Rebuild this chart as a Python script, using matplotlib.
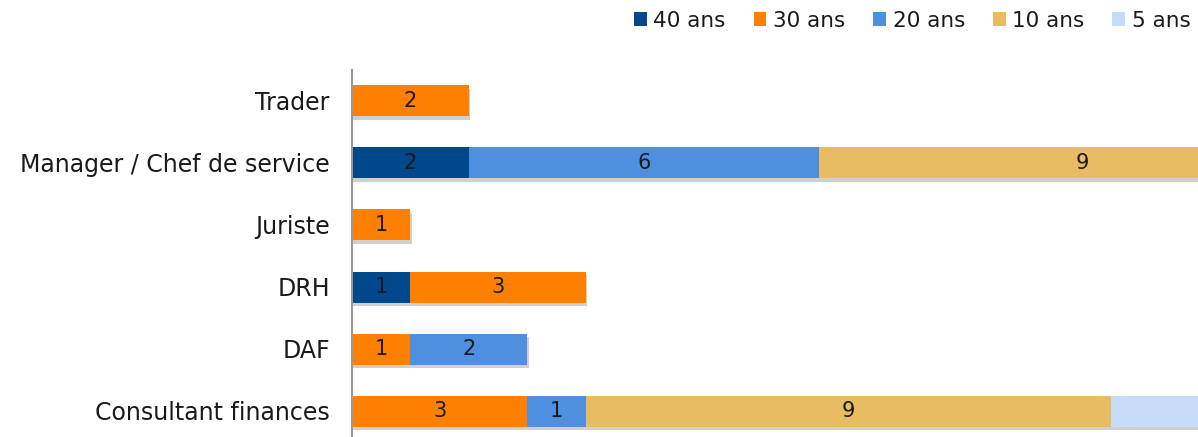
import matplotlib
matplotlib.use("Agg")
import matplotlib.pyplot as plt
import matplotlib.patheffects as pe
from matplotlib.patches import Patch
import numpy as np

plt.rcParams["font.family"] = ["DejaVu Sans"]

categories = ["Trader", "Manager / Chef de service", "Juriste", "DRH", "DAF", "Consultant finances"]
series = ["40 ans", "30 ans", "20 ans", "10 ans", "5 ans"]
ans40 = [0, 2, 0, 1, 0, 0]
ans30 = [2, 0, 1, 3, 1, 3]
ans20 = [0, 6, 0, 0, 2, 1]
ans10 = [0, 9, 0, 0, 0, 9]
ans5 = [0, 0, 0, 0, 0, 4]
colors = ["#00478C", "#FF8000", "#4E8FE0", "#E8BC62", "#C6DBF7"]

fig = plt.figure(figsize=(11.98, 4.37), dpi=100)
ax = fig.add_axes([352 / 1198, -5 / 437, 846 / 1198, 372 / 437])
xmax = 846 / 58.4

y = np.arange(len(categories))
left = np.zeros(len(categories))
shadow = [pe.SimplePatchShadow(offset=(1, -2.5), alpha=0.25, shadow_rgbFace="#444444"), pe.Normal()]
for name, vals, col in zip(series, [ans40, ans30, ans20, ans10, ans5], colors):
    vals = np.array(vals, dtype=float)
    ax.barh(y, vals, left=left, height=0.5, color=col, path_effects=shadow)
    for yi, l, v in zip(y, left, vals):
        # labels whose centre falls past the cut-off right edge are not shown
        if v > 0 and l + v / 2 < xmax:
            ax.text(l + v / 2, yi, f"{int(v)}", ha="center", va="center",
                    fontsize=15, color="#1a1a1a", clip_on=True)
    left += vals

ax.set_xlim(0, xmax)
ax.set_ylim(5.5, -0.5)
ax.set_yticks(y)
ax.set_yticklabels(categories, fontsize=17, color="#1a1a1a")
ax.tick_params(axis="y", length=0, pad=16)
ax.set_xticks([])
for s in ["top", "right", "bottom"]:
    ax.spines[s].set_visible(False)
ax.spines["left"].set_color("#999999")
ax.spines["left"].set_linewidth(1.5)

handles = [Patch(facecolor=c, label=n) for n, c in zip(series, colors)]
fig.legend(handles=handles, loc="upper right", bbox_to_anchor=(1.01, 1.02), ncol=5, frameon=False,
           fontsize=15.5, handlelength=0.6, handleheight=0.6, handletextpad=0.3,
           columnspacing=1.3, labelcolor="#1a1a1a")

fig.savefig("out.png", dpi=100)
